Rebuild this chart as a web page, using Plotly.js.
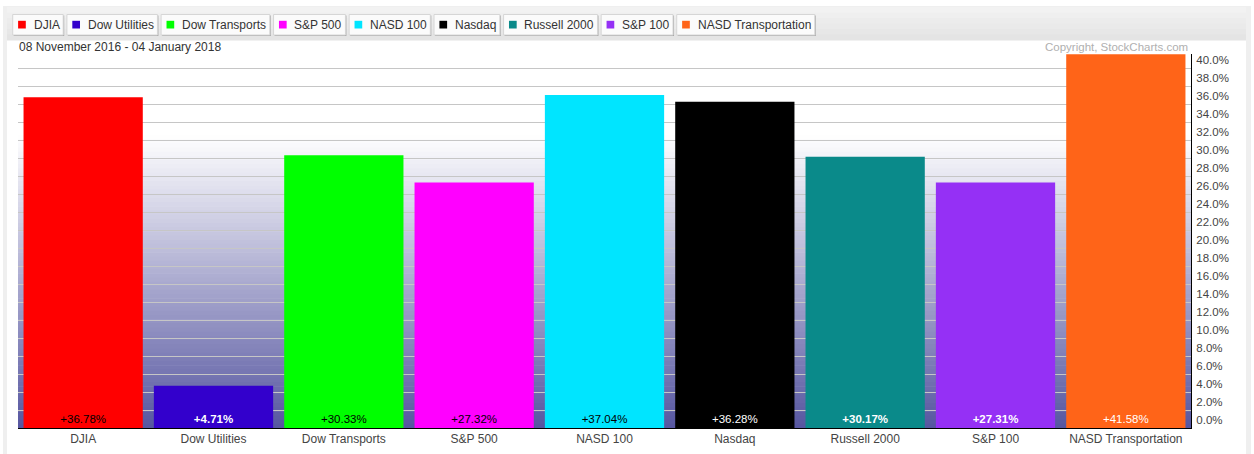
<!DOCTYPE html>
<html>
<head>
<meta charset="utf-8">
<script src="https://cdn.plot.ly/plotly-3.0.1.min.js"></script>
<style>
  html, body { margin: 0; padding: 0; background: #ffffff; }
  #chart { width: 1254px; height: 454px; }
</style>
</head>
<body>
<div id="chart"></div>
<script>
// ---- data ----
const categories = ['DJIA', 'Dow Utilities', 'Dow Transports', 'S&P 500', 'NASD 100', 'Nasdaq', 'Russell 2000', 'S&P 100', 'NASD Transportation'];
const values = [36.78, 4.71, 30.33, 27.32, 37.04, 36.28, 30.17, 27.31, 41.58];
const barColors = ['#ff0000', '#3300cc', '#00ff00', '#ff00ff', '#00e5ff', '#000000', '#0a8a8a', '#9530f5', '#ff6418'];
const labelColors = ['#000000', '#ffffff', '#000000', '#000000', '#000000', '#ffffff', '#ffffff', '#ffffff', '#ffffff'];
const labelBold = [false, true, false, false, false, false, true, true, false];
const dateRange = '08 November 2016 - 04 January 2018';
const copyrightText = 'Copyright, StockCharts.com';
const yTickStep = 2;

// ---- geometry helpers (styling only) ----
const W = 1254, H = 454;
const M = { l: 18, r: 63, t: 54, b: 26 };
const plotW = W - M.l - M.r;
const plotH = H - M.t - M.b;
const px2x = px => (px - M.l) / plotW;
const py2y = py => (H - M.b - py) / plotH;
const FONT = '"Liberation Sans", Arial, Helvetica, sans-serif';

const shapes = [];
const annotations = [];

function rect(x0, y0, x1, y1, fill, line, lw) {
  shapes.push({
    type: 'rect', xref: 'paper', yref: 'paper', layer: 'below',
    x0: px2x(x0), x1: px2x(x1), y0: py2y(y1), y1: py2y(y0),
    fillcolor: fill, line: { color: line || fill, width: lw || 0 }
  });
}

// outer panel frame
rect(3, 6, 1251, 454, '#efefef');
rect(7, 40, 1246, 454, '#ffffff');
// legend strip gradient
const stripTop = 7, stripBot = 40;
for (let i = 0; i < 6; i++) {
  const a = stripTop + (stripBot - stripTop) * i / 6;
  const b = stripTop + (stripBot - stripTop) * (i + 1) / 6 + 0.5;
  const c = Math.round(242 - (242 - 228) * i / 5);
  rect(7, a, 1246, b, `rgb(${c},${c},${c})`);
}

// plot background gradient (white -> slate blue)
const gTop = 135, gBot = H - M.b;
const topC = [255, 255, 255], botC = [86, 86, 160];
const N = 70;
for (let i = 0; i < N; i++) {
  const a = gTop + (gBot - gTop) * i / N;
  const b = gTop + (gBot - gTop) * (i + 1) / N + 0.6;
  const f = (i + 0.5) / N;
  const c = topC.map((v, k) => Math.round(v + (botC[k] - v) * f));
  rect(M.l, a, W - M.r, Math.min(b, gBot), `rgb(${c[0]},${c[1]},${c[2]})`);
}

// legend buttons
const cv = document.createElement('canvas').getContext('2d');
cv.font = '12px "Liberation Sans"';
let bx = 12.7;
const by0 = 14.5, by1 = 35;
categories.forEach((name, i) => {
  const tw = cv.measureText(name).width;
  const bw = tw + 24.5;
  rect(bx + 1, by0 + 1, bx + bw + 1, by1 + 1, '#a9a9a9');
  rect(bx, by0, bx + bw, by1, '#fbfbfb', '#d6d6d6', 1);
  rect(bx + 5.4, 20.8, bx + 13.1, 28.5, barColors[i]);
  annotations.push({
    xref: 'paper', yref: 'paper', x: px2x(bx + 18.8), y: py2y(24.8),
    xanchor: 'left', yanchor: 'middle', showarrow: false,
    text: name, font: { family: FONT, size: 12, color: '#333333' }
  });
  bx += bw + 3.7;
});

// header texts
annotations.push({
  xref: 'paper', yref: 'paper', x: px2x(17), y: py2y(47),
  xanchor: 'left', yanchor: 'middle', showarrow: false,
  text: dateRange, font: { family: FONT, size: 12, color: '#333333' }
});
annotations.push({
  xref: 'paper', yref: 'paper', x: px2x(1190), y: py2y(47),
  xanchor: 'right', yanchor: 'middle', showarrow: false,
  text: copyrightText, font: { family: FONT, size: 11.5, color: '#b0b0b0' }
});

const barText = values.map((v, i) => {
  const s = (v >= 0 ? '+' : '') + v.toFixed(2) + '%';
  return labelBold[i] ? '<b>' + s + '</b>' : s;
});

const trace = {
  type: 'bar',
  x: categories,
  y: values,
  marker: { color: barColors, line: { width: 0 } },
  text: barText,
  textposition: 'inside',
  insidetextanchor: 'start',
  textangle: 0,
  constraintext: 'none',
  insidetextfont: { family: FONT, size: 11.5, color: labelColors },
  hoverinfo: 'skip',
  showlegend: false
};

const layout = {
  width: W, height: H,
  margin: M,
  paper_bgcolor: 'rgba(0,0,0,0)',
  plot_bgcolor: 'rgba(0,0,0,0)',
  font: { family: FONT, size: 12, color: '#444444' },
  bargap: 0.085,
  showlegend: false,
  xaxis: {
    type: 'category',
    showline: true, linecolor: '#000000', linewidth: 1,
    showgrid: false, ticks: '', zeroline: false,
    tickfont: { family: FONT, size: 12, color: '#444444' },
    fixedrange: true
  },
  yaxis: {
    side: 'right',
    range: [0, Math.max(...values) + 0.02],
    tick0: 0, dtick: yTickStep,
    tickformat: '.1f', ticksuffix: '%',
    showgrid: true, gridcolor: '#c6c6c6', gridwidth: 1,
    showline: true, linecolor: '#000000', linewidth: 1,
    zeroline: false, ticks: '',
    ticklabelshift: -8, ticklabelstandoff: 2,
    tickfont: { family: FONT, size: 11.5, color: '#444444' },
    fixedrange: true
  },
  shapes: shapes,
  annotations: annotations
};

Plotly.newPlot('chart', [trace], layout, { displayModeBar: false, staticPlot: true });
</script>
</body>
</html>
